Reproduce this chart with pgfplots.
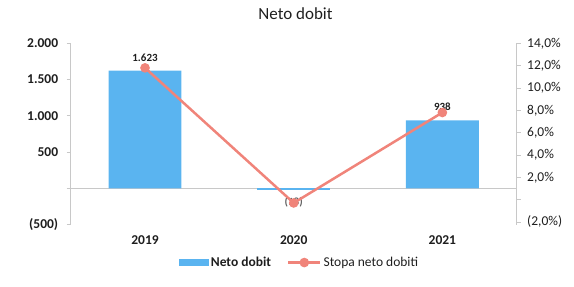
\documentclass[border=0pt]{standalone}
\usepackage{pgfplots}
\pgfplotsset{compat=1.18}
\usepackage{fontspec}
\setmainfont{Carlito}
\definecolor{barblue}{RGB}{90,180,240}
\definecolor{linered}{RGB}{240,132,122}
\definecolor{axgray}{RGB}{200,200,200}
\definecolor{txt}{RGB}{30,30,30}
\pgfplotsset{
  mylinelegend/.style={legend image code/.code={\draw[mark repeat=2, mark phase=2, ##1] plot coordinates {(0bp,0bp) (16bp,0bp) (32bp,0bp)};}},
  mybarlegend/.style={legend image code/.code={\fill[barblue] (0bp,-3.5bp) rectangle (30bp,3.5bp);}},
}
\begin{document}
\begin{tikzpicture}
\useasboundingbox (-70.7bp,-62.5bp) rectangle (503.3bp,224.5bp);
\begin{axis}[
  scale only axis, width=446bp, height=181.2bp,
  at={(0,0)}, anchor=south west,
  xmin=-0.5, xmax=2.5, ymin=-500, ymax=2000,
  axis y line*=left, axis x line*=bottom,
  x axis line style={draw=none},
  y axis line style={axgray, line width=0.8bp},
  xtick={0,1,2}, xticklabels={2019,2020,2021},
  xtick style={draw=none},
  xticklabel style={font=\fontsize{13.5bp}{15bp}\selectfont\bfseries, text=txt, yshift=-4bp},
  ytick={-500,0,500,1000,1500,2000},
  yticklabels={(500),,500,1.000,1.500,2.000},
  yticklabel style={font=\fontsize{13.5bp}{15bp}\selectfont\bfseries, text=txt, xshift=-5bp},
  ytick style={axgray, line width=0.8bp},
  tick align=outside, major tick length=4bp,
  extra y ticks={0}, extra y tick labels={},
  extra y tick style={grid=major, major grid style={axgray, line width=0.8bp}, major tick length=0bp},
  legend columns=2,
  legend style={draw=none, fill=none, at={(0.513,-0.21)}, anchor=center,
    font=\fontsize{13.5bp}{15bp}\selectfont, text=txt,
    /tikz/every even column/.append style={column sep=14bp}},
]
\addplot[ybar, bar width=0.49, fill=barblue, draw=none,
  nodes near coords, point meta=explicit symbolic,
  nodes near coords style={font=\fontsize{11bp}{12bp}\selectfont\bfseries, text=txt, anchor=south, yshift=6bp},
  mybarlegend]
  table[meta=label] {
x y label
0 1623 1.623
2 938 938
};
\addlegendentry{\textbf{Neto dobit}}
\addplot[ybar, bar width=0.49, fill=barblue, draw=none, forget plot,
  nodes near coords, point meta=explicit symbolic,
  nodes near coords style={font=\fontsize{11bp}{12bp}\selectfont\bfseries, text=txt!70, anchor=north, yshift=-4bp}]
  table[meta=label] {
x y label
1 -18 (18)
};
\addlegendimage{linered, line width=2.5bp, mark=*, mark size=3.5bp, mylinelegend}
\addlegendentry{Stopa neto dobiti}
\end{axis}
\begin{axis}[
  scale only axis, width=446bp, height=181.2bp,
  at={(0,0)}, anchor=south west,
  xmin=-0.5, xmax=2.5, ymin=-2.23, ymax=14,
  axis y line*=right, axis x line=none,
  y axis line style={axgray, line width=0.8bp},
  ytick={-2,0,2,4,6,8,10,12,14},
  yticklabels={{(2,0\%)},{},{2,0\%},{4,0\%},{6,0\%},{8,0\%},{10,0\%},{12,0\%},{14,0\%}},
  yticklabel style={font=\fontsize{13.5bp}{15bp}\selectfont, text=txt, xshift=3bp},
  ytick style={axgray, line width=0.8bp},
  tick align=outside, major tick length=4bp,
]
\addplot[linered, line width=2.5bp, mark=*, mark size=3.5bp] coordinates {(0,11.8) (1,-0.3) (2,7.8)};
\end{axis}
\node[font=\fontsize{17bp}{20bp}\selectfont, text=txt] at (224.8bp,210.5bp) {Neto dobit};
\end{tikzpicture}
\end{document}
